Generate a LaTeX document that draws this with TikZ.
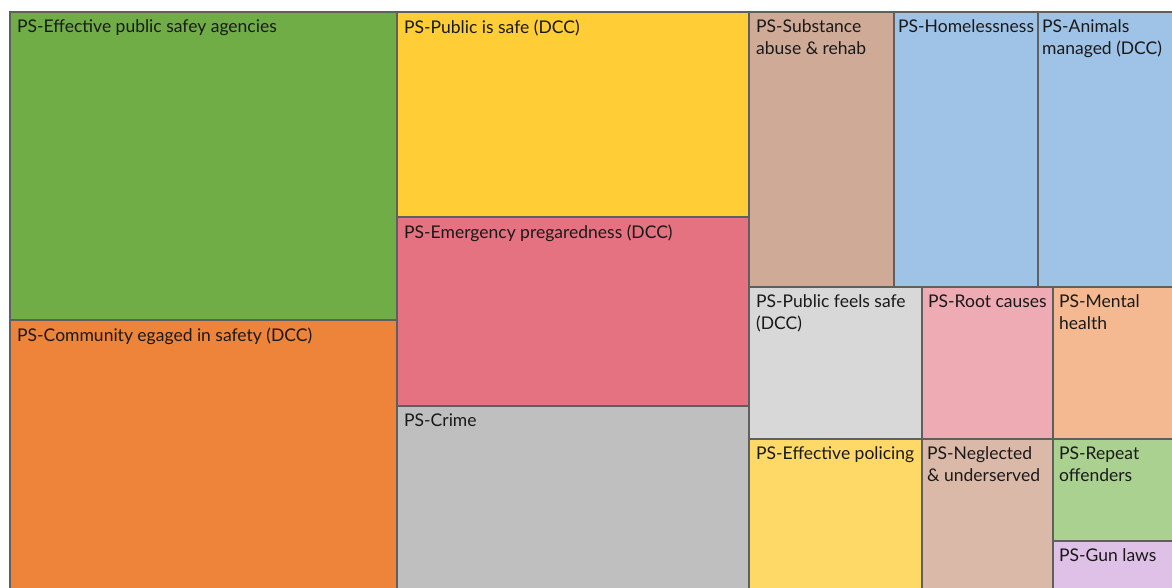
\documentclass[tikz,border=0pt]{standalone}
\usepackage{fontspec}
\setmainfont{Lato}
\definecolor{cGreen}{HTML}{70AD47}
\definecolor{cOrange}{HTML}{EE843A}
\definecolor{cYellow}{HTML}{FFCD36}
\definecolor{cRed}{HTML}{E57280}
\definecolor{cGray}{HTML}{BFBFBF}
\definecolor{cBrown}{HTML}{CFAA96}
\definecolor{cBlue}{HTML}{9FC3E7}
\definecolor{cLight}{HTML}{D8D8D8}
\definecolor{cPink}{HTML}{EFABB4}
\definecolor{cPeach}{HTML}{F4B990}
\definecolor{cGold}{HTML}{FFD968}
\definecolor{cTan}{HTML}{DBB9A8}
\definecolor{cLime}{HTML}{AAD18F}
\definecolor{cLilac}{HTML}{DFC0E6}
\definecolor{cEdge}{HTML}{5F5F5F}
\tikzset{
  cell/.style={draw=cEdge, line width=1.3pt, anchor=north west, inner sep=0pt, outer sep=0pt},
  tag/.style={anchor=north west, inner sep=0pt, align=left, text=black!90,
    font=\fontsize{17.5}{22}\selectfont},
}
\begin{document}
\begin{tikzpicture}[x=1pt, y=-1pt]
	\useasboundingbox[fill=white] (0,0) rectangle (1172,587);
	% left column
	\node[cell, fill=cGreen, minimum width=387pt, minimum height=308pt] (agencies) at (10,12) {};
	\node[cell, fill=cOrange, minimum width=387pt, minimum height=275pt] (community) at (10,320) {};
	% middle column
	\node[cell, fill=cYellow, minimum width=352pt, minimum height=205pt] (publicsafe) at (397,12) {};
	\node[cell, fill=cRed, minimum width=352pt, minimum height=189pt] (emergency) at (397,217) {};
	\node[cell, fill=cGray, minimum width=352pt, minimum height=189pt] (crime) at (397,406) {};
	% right column, top row
	\node[cell, fill=cBrown, minimum width=145pt, minimum height=275pt] (substance) at (749,12) {};
	\node[cell, fill=cBlue, minimum width=145pt, minimum height=275pt] (homeless) at (894,12) {};
	\node[cell, fill=cBlue, minimum width=145pt, minimum height=275pt] (animals) at (1038,12) {};
	% right column, middle row
	\node[cell, fill=cLight, minimum width=173pt, minimum height=152pt] (feelsafe) at (749,287) {};
	\node[cell, fill=cPink, minimum width=131pt, minimum height=152pt] (rootcauses) at (922,287) {};
	\node[cell, fill=cPeach, minimum width=130pt, minimum height=152pt] (mental) at (1053,287) {};
	% right column, bottom row
	\node[cell, fill=cGold, minimum width=173pt, minimum height=156pt] (policing) at (749,439) {};
	\node[cell, fill=cTan, minimum width=131pt, minimum height=156pt] (neglected) at (922,439) {};
	\node[cell, fill=cLime, minimum width=130pt, minimum height=102pt] (repeat) at (1053,439) {};
	\node[cell, fill=cLilac, minimum width=130pt, minimum height=54pt] (gunlaws) at (1053,541) {};
	% labels
	\node[tag] (agenciesText) at ([shift={(7,7.5)}]agencies.north west) {PS-Effective public safey agencies};
	\node[tag] (communityText) at ([shift={(7,7.5)}]community.north west) {PS-Community egaged in safety (DCC)};
	\node[tag] (publicsafeText) at ([shift={(7,7.5)}]publicsafe.north west) {PS-Public is safe (DCC)};
	\node[tag] (emergencyText) at ([shift={(7,7.5)}]emergency.north west) {PS-Emergency pregaredness (DCC)};
	\node[tag] (crimeText) at ([shift={(7,7.5)}]crime.north west) {PS-Crime};
	\node[tag] (substanceText) at ([shift={(7,7.5)}]substance.north west) {PS-Substance\\abuse \& rehab};
	\node[tag] (homelessText) at ([shift={(4,7.5)}]homeless.north west) {PS-Homelessness};
	\node[tag] (animalsText) at ([shift={(4,7.5)}]animals.north west) {PS-Animals\\managed (DCC)};
	\node[tag] (feelsafeText) at ([shift={(7,7.5)}]feelsafe.north west) {PS-Public feels safe\\(DCC)};
	\node[tag] (rootcausesText) at ([shift={(6,7.5)}]rootcauses.north west) {PS-Root causes};
	\node[tag] (mentalText) at ([shift={(6,7.5)}]mental.north west) {PS-Mental\\health};
	\node[tag] (policingText) at ([shift={(7,7.5)}]policing.north west) {PS-Effective policing};
	\node[tag] (neglectedText) at ([shift={(5,7.5)}]neglected.north west) {PS-Neglected\\\& underserved};
	\node[tag] (repeatText) at ([shift={(6,7.5)}]repeat.north west) {PS-Repeat\\offenders};
	\node[tag] (gunlawsText) at ([shift={(6,7.5)}]gunlaws.north west) {PS-Gun laws};
\end{tikzpicture}
\end{document}
